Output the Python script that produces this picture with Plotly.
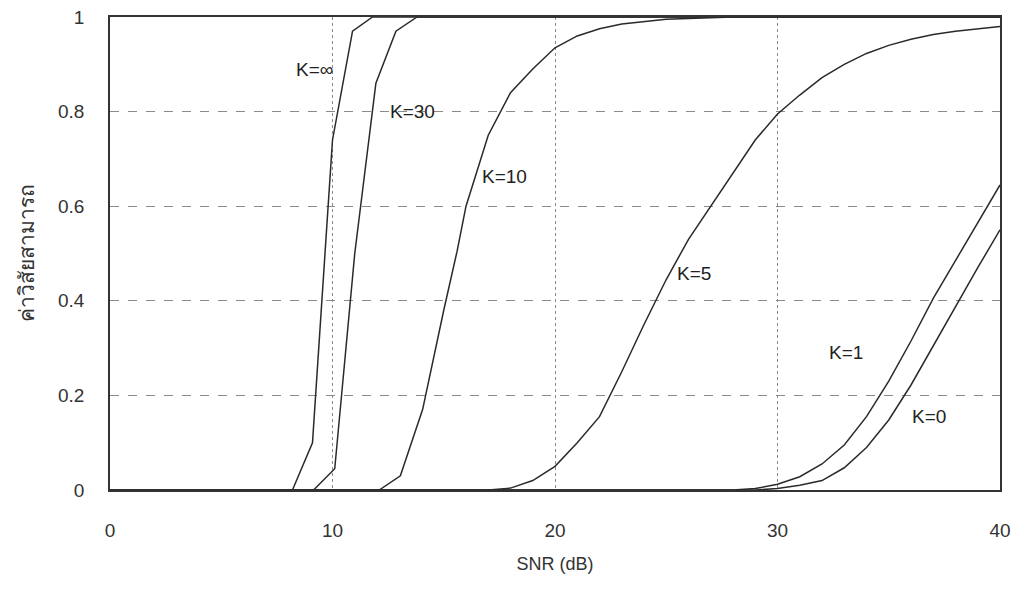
import plotly.graph_objects as go

# SNR (dB) points and values
snr_kinf = [8.2, 9.1, 10.0, 10.9, 11.8, 40]
val_kinf = [0.0, 0.10, 0.74, 0.97, 1.0, 1.0]

snr_k30 = [9.15, 10.1, 11.0, 11.95, 12.85, 13.8, 40]
val_k30 = [0.0, 0.045, 0.50, 0.86, 0.97, 1.0, 1.0]

snr_k10 = [12.1, 13.05, 14.05, 15.0, 15.6, 16.0, 17.0, 18.0, 19.0, 20.0, 21.0, 22.0, 23.0, 25.0, 28.0, 40]
val_k10 = [0.0, 0.03, 0.17, 0.38, 0.505, 0.60, 0.75, 0.84, 0.89, 0.935, 0.96, 0.975, 0.985, 0.995, 1.0, 1.0]

snr_k5 = [0, 17, 18, 19, 20, 21, 22, 23, 24, 25, 26, 27, 28, 29, 30, 31, 32, 33, 34, 35, 36, 37, 38, 39, 40]
val_k5 = [0.0, 0.0, 0.004, 0.02, 0.05, 0.10, 0.155, 0.25, 0.35, 0.445, 0.53, 0.60, 0.67, 0.74, 0.795,
          0.835, 0.872, 0.90, 0.923, 0.94, 0.953, 0.963, 0.97, 0.975, 0.98]

snr_k1 = [0, 28, 29, 30, 31, 32, 33, 34, 35, 36, 37, 38, 39, 40]
val_k1 = [0.0, 0.0, 0.003, 0.012, 0.028, 0.055, 0.095, 0.155, 0.23, 0.315, 0.405, 0.485, 0.565, 0.645]

snr_k0 = [0, 29, 30, 31, 32, 33, 34, 35, 36, 37, 38, 39, 40]
val_k0 = [0.0, 0.0, 0.003, 0.01, 0.02, 0.047, 0.09, 0.148, 0.222, 0.305, 0.388, 0.47, 0.55]

labels = ["K=∞", "K=30", "K=10", "K=5", "K=1", "K=0"]
label_x = [9.2, 13.6, 17.75, 26.25, 33.1, 36.8]
label_y = [0.89, 0.80, 0.663, 0.457, 0.29, 0.155]

x_ticks = [0, 10, 20, 30, 40]
y_ticks = [0, 0.2, 0.4, 0.6, 0.8, 1]

curves = [
    (snr_kinf, val_kinf),
    (snr_k30, val_k30),
    (snr_k10, val_k10),
    (snr_k5, val_k5),
    (snr_k1, val_k1),
    (snr_k0, val_k0),
]

fig = go.Figure()

for (xs, ys), name in zip(curves, labels):
    fig.add_trace(
        go.Scatter(
            x=xs,
            y=ys,
            mode="lines",
            name=name,
            line=dict(color="#2a2a2a", width=1.5),
            showlegend=False,
        )
    )

for t, xa, ya in zip(labels, label_x, label_y):
    fig.add_annotation(
        x=xa, y=ya, text=t, showarrow=False,
        font=dict(size=19, color="#222222"),
    )

# page body has an 8px margin, so the figure is kept small enough to avoid scrollbars
fig.update_layout(
    width=1006,
    height=574,
    margin=dict(l=102, r=14, t=9, b=92),
    paper_bgcolor="white",
    plot_bgcolor="white",
    font=dict(family="Liberation Sans, Arial, sans-serif", size=19, color="#333333"),
)

fig.update_xaxes(
    range=[0, 40],
    tickvals=x_ticks,
    ticks="",
    ticklabelstandoff=22,
    automargin=False,
    showgrid=True,
    gridcolor="#8a8a8a",
    gridwidth=1,
    griddash="dot",
    showline=True,
    linecolor="#333333",
    linewidth=1.5,
    mirror=True,
    zeroline=False,
    title=dict(text="SNR (dB)", standoff=18, font=dict(size=18)),
)
fig.update_yaxes(
    range=[0, 1],
    tickvals=y_ticks,
    ticks="",
    ticklabelstandoff=20,
    ticklabeloverflow="allow",
    automargin=False,
    showgrid=True,
    gridcolor="#8a8a8a",
    gridwidth=1,
    griddash="dash",
    showline=True,
    linecolor="#333333",
    linewidth=1.5,
    mirror=True,
    zeroline=False,
    title=dict(text="ค่าวิสัยสามารถ", standoff=18, font=dict(size=21)),
)

fig.write_html("out.html")
